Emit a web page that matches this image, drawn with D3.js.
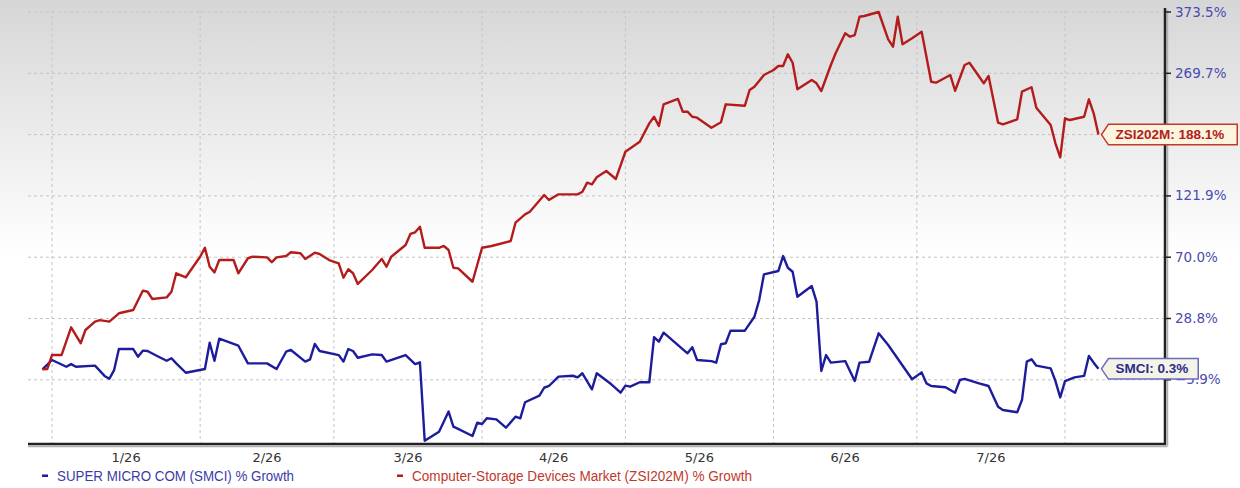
<!DOCTYPE html>
<html lang="en">
<head>
  <meta charset="UTF-8">
  <title>SMCI vs Computer-Storage Devices Market % Growth</title>
  <style>
    body { margin: 0; background: #fff; }
    #chart { width: 1240px; height: 488px; }
    .tick-label { font-family: "DejaVu Sans", Verdana, sans-serif; font-size: 13px; }
    .y-label { font-size: 13.5px; }
    .legend-text { font-family: "Liberation Sans", Arial, sans-serif; font-size: 14px; }
    .tag-text { font-family: "Liberation Sans", Arial, sans-serif; font-size: 13.5px; font-weight: bold; }
  </style>
</head>
<body>
  <div id="chart"></div>

  <script src="https://d3js.org/d3.v7.min.js"></script>
  <script>
    // SMCI % growth
    const smciDates = [
      "2025-12-30", "2026-01-01", "2026-01-04", "2026-01-05", "2026-01-06", "2026-01-10", "2026-01-12", "2026-01-13",
      "2026-01-14", "2026-01-15", "2026-01-18", "2026-01-19", "2026-01-20", "2026-01-21", "2026-01-23", "2026-01-25",
      "2026-01-26", "2026-01-27", "2026-01-29", "2026-02-02", "2026-02-03", "2026-02-04", "2026-02-05", "2026-02-09",
      "2026-02-11", "2026-02-15", "2026-02-17", "2026-02-19", "2026-02-20", "2026-02-23", "2026-02-24", "2026-02-25",
      "2026-02-26", "2026-03-02", "2026-03-03", "2026-03-04", "2026-03-05", "2026-03-06", "2026-03-09", "2026-03-11",
      "2026-03-12", "2026-03-16", "2026-03-18", "2026-03-19", "2026-03-20", "2026-03-23", "2026-03-25", "2026-03-26",
      "2026-03-27", "2026-03-30", "2026-03-31", "2026-04-01", "2026-04-02", "2026-04-04", "2026-04-06", "2026-04-08",
      "2026-04-09", "2026-04-10", "2026-04-13", "2026-04-14", "2026-04-15", "2026-04-17", "2026-04-20", "2026-04-21",
      "2026-04-22", "2026-04-24", "2026-04-25", "2026-04-28", "2026-04-30", "2026-05-01", "2026-05-02", "2026-05-04",
      "2026-05-06", "2026-05-07", "2026-05-08", "2026-05-09", "2026-05-14", "2026-05-15", "2026-05-16", "2026-05-19",
      "2026-05-20", "2026-05-21", "2026-05-22", "2026-05-23", "2026-05-26", "2026-05-28", "2026-05-29", "2026-05-30",
      "2026-06-02", "2026-06-03", "2026-06-04", "2026-06-05", "2026-06-06", "2026-06-09", "2026-06-10", "2026-06-11",
      "2026-06-12", "2026-06-13", "2026-06-16", "2026-06-18", "2026-06-19", "2026-06-21", "2026-06-23", "2026-06-25",
      "2026-06-30", "2026-07-02", "2026-07-03", "2026-07-04", "2026-07-07", "2026-07-09", "2026-07-10", "2026-07-11",
      "2026-07-14", "2026-07-16", "2026-07-18", "2026-07-19", "2026-07-22", "2026-07-23", "2026-07-24", "2026-07-25",
      "2026-07-26", "2026-07-29", "2026-07-30", "2026-07-31", "2026-08-01", "2026-08-03", "2026-08-05", "2026-08-06",
      "2026-08-07", "2026-08-08"
    ];
    const smciValues = [
      0, 5.3, 1.5, 3.0, 1.5, 2.1, -3.7, -5.3,
      -0.4, 11.5, 11.5, 7.2, 10.6, 10.4, 7.6, 4.9,
      6.3, 3.4, -1.9, 0.2, 15.1, 4.9, 17.4, 13.4,
      3.4, 3.4, 0.2, 10.0, 11.0, 4.4, 5.7, 14.4,
      10.4, 8.1, 4.4, 11.5, 10.4, 6.6, 8.5, 8.1,
      4.4, 8.1, 3.0, 4.0, -40.4, -35.3, -23.9, -32.4,
      -33.7, -37.7, -30.2, -30.9, -27.7, -28.3, -33.0, -26.8,
      -27.7, -18.6, -14.9, -10.4, -9.4, -4.1, -3.6, -4.5,
      -2.2, -11.3, -2.2, -8.3, -13.2, -9.2, -9.8, -7.3,
      -7.3, 18.2, 15.7, 20.8, 9.1, 12.5, 5.3, 4.7,
      3.8, 14.2, 14.8, 21.9, 21.9, 30.0, 41.2, 58.5,
      60.7, 71.0, 62.9, 60.2, 43.4, 50.6, 40.1, -0.9,
      8.1, 3.8, 4.7, -6.6, 3.8, 4.3, 20.4, 13.8,
      -5.6, -1.7, -7.9, -9.4, -10.1, -13.2, -6.0, -5.4,
      -7.9, -9.4, -21.1, -23.0, -24.3, -17.3, 4.4, 5.7,
      2.1, 0.6, -6.6, -15.8, -6.6, -4.5, -3.7, 7.6,
      3.8, 0.3
    ];

    // Computer-Storage Devices Market (ZSI202M) % growth
    const zsiDates = [
      "2025-12-30", "2025-12-31", "2026-01-01", "2026-01-03", "2026-01-05", "2026-01-07", "2026-01-08", "2026-01-10",
      "2026-01-11", "2026-01-13", "2026-01-15", "2026-01-18", "2026-01-20", "2026-01-21", "2026-01-22", "2026-01-25",
      "2026-01-26", "2026-01-27", "2026-01-29", "2026-02-01", "2026-02-02", "2026-02-03", "2026-02-04", "2026-02-05",
      "2026-02-08", "2026-02-09", "2026-02-11", "2026-02-12", "2026-02-15", "2026-02-16", "2026-02-17", "2026-02-19",
      "2026-02-20", "2026-02-22", "2026-02-23", "2026-02-25", "2026-02-26", "2026-02-28", "2026-03-02", "2026-03-03",
      "2026-03-04", "2026-03-05", "2026-03-06", "2026-03-09", "2026-03-11", "2026-03-12", "2026-03-13", "2026-03-16",
      "2026-03-17", "2026-03-18", "2026-03-19", "2026-03-20", "2026-03-23", "2026-03-24", "2026-03-25", "2026-03-26",
      "2026-03-27", "2026-03-30", "2026-04-01", "2026-04-03", "2026-04-07", "2026-04-08", "2026-04-10", "2026-04-11",
      "2026-04-14", "2026-04-15", "2026-04-17", "2026-04-21", "2026-04-22", "2026-04-23", "2026-04-24", "2026-04-25",
      "2026-04-27", "2026-04-29", "2026-05-01", "2026-05-04", "2026-05-06", "2026-05-07", "2026-05-08", "2026-05-09",
      "2026-05-12", "2026-05-13", "2026-05-14", "2026-05-15", "2026-05-16", "2026-05-19", "2026-05-21", "2026-05-22",
      "2026-05-26", "2026-05-27", "2026-05-28", "2026-05-30", "2026-06-01", "2026-06-02", "2026-06-03", "2026-06-04",
      "2026-06-05", "2026-06-06", "2026-06-09", "2026-06-10", "2026-06-11", "2026-06-13", "2026-06-14", "2026-06-16",
      "2026-06-17", "2026-06-18", "2026-06-19", "2026-06-20", "2026-06-23", "2026-06-25", "2026-06-26", "2026-06-27",
      "2026-06-28", "2026-06-30", "2026-07-02", "2026-07-04", "2026-07-05", "2026-07-08", "2026-07-09", "2026-07-11",
      "2026-07-12", "2026-07-15", "2026-07-16", "2026-07-18", "2026-07-19", "2026-07-22", "2026-07-23", "2026-07-25",
      "2026-07-26", "2026-07-29", "2026-07-30", "2026-07-31", "2026-08-01", "2026-08-02", "2026-08-05", "2026-08-06",
      "2026-08-07", "2026-08-08"
    ];
    const zsiValues = [
      0, 0.2, 8.1, 8.1, 23.8, 14.8, 22.3, 27.0,
      27.9, 27.0, 32.3, 34.5, 47.5, 46.8, 41.9, 43.0,
      46.8, 59.2, 56.5, 70.4, 78.0, 63.6, 59.8, 68.1,
      68.1, 59.2, 69.3, 70.4, 69.9, 66.6, 69.9, 71.0,
      74.2, 73.3, 68.8, 73.8, 72.7, 68.1, 65.9, 56.2,
      61.9, 59.2, 52.0, 61.4, 68.8, 63.6, 70.4, 80.3,
      89.7, 91.1, 95.8, 78.0, 78.0, 79.5, 76.1, 62.9,
      62.5, 53.5, 78.0, 79.5, 83.7, 99.2, 106.3, 108.5,
      122.9, 118.4, 123.6, 123.6, 126.4, 136.2, 134.4, 142.0,
      148.8, 140.2, 169.6, 180.4, 203.1, 211.9, 199.5, 228.4,
      235.5, 218.6, 218.6, 211.9, 210.6, 197.3, 204.5, 228.4,
      226.6, 247.5, 251.9, 267.4, 275.3, 282.1, 282.1, 301.9,
      287.6, 248.4, 260.8, 256.4, 246.1, 283.8, 303.6, 337.4,
      331.7, 334.5, 365.5, 366.7, 373.5, 327.3, 314.7, 365.5,
      318.8, 328.9, 340.1, 258.5, 257.2, 267.4, 246.5, 283.8,
      287.6, 256.4, 266.1, 203.9, 201.8, 208.5, 245.2, 251.1,
      223.9, 200.9, 178.7, 163.6, 209.8, 207.5, 211.9, 235.1,
      216.4, 188.1
    ];

    const yTicks = [-5.9, 28.8, 70.0, 121.9, 188.1, 269.7, 373.5];
    const monthStarts = ["2026-01-01", "2026-02-01", "2026-03-01", "2026-04-01", "2026-05-01", "2026-06-01", "2026-07-01", "2026-08-01"];
    const seriesNames = ["SUPER MICRO COM (SMCI) % Growth", "Computer-Storage Devices Market (ZSI202M) % Growth"];
    const tagNames = ["SMCI", "ZSI202M"];

    const width = 1240;
    const height = 488;
    const plotLeft = 28;
    const plotRight = 1165;
    const plotBottom = 444;

    const blue = "#1c1c9c";
    const red = "#b41c1c";

    const parse = d3.utcParse("%Y-%m-%d");

    const svg = d3.select("#chart")
      .append("svg")
      .attr("width", width)
      .attr("height", height);

    // background gradient
    const grad = svg.append("defs").append("linearGradient")
      .attr("id", "bg")
      .attr("x1", 0).attr("y1", 0).attr("x2", 0).attr("y2", 1);
    grad.append("stop").attr("offset", "0%").attr("stop-color", "#d6d6d6");
    grad.append("stop").attr("offset", "52%").attr("stop-color", "#ffffff");
    grad.append("stop").attr("offset", "100%").attr("stop-color", "#ffffff");

    svg.append("rect")
      .attr("width", width)
      .attr("height", height)
      .attr("fill", "url(#bg)");

    const months = monthStarts.map(parse);

    const x = d3.scaleUtc()
      .domain([months[0], months[months.length - 1]])
      .range([52, 1065]);

    // ticks sit evenly spaced, one step apart
    const y = d3.scaleLinear()
      .domain(yTicks)
      .range(yTicks.map((d, i) => 379.8 - i * 61.3));

    const smci = smciDates.map((d, i) => [parse(d), smciValues[i]]);
    const zsi = zsiDates.map((d, i) => [parse(d), zsiValues[i]]);

    // grid
    svg.append("g")
      .selectAll("line")
      .data(yTicks)
      .enter()
      .append("line")
      .attr("x1", plotLeft)
      .attr("x2", plotRight)
      .attr("y1", d => y(d))
      .attr("y2", d => y(d))
      .attr("stroke", "#c4c4c4")
      .attr("stroke-dasharray", "3,3");

    svg.append("g")
      .selectAll("line")
      .data(months)
      .enter()
      .append("line")
      .attr("x1", d => x(d))
      .attr("x2", d => x(d))
      .attr("y1", 10)
      .attr("y2", plotBottom)
      .attr("stroke", "#c4c4c4")
      .attr("stroke-dasharray", "3,3");

    // month labels in the middle of each month
    svg.append("g")
      .selectAll("text")
      .data(months.slice(0, -1))
      .enter()
      .append("text")
      .attr("class", "tick-label")
      .attr("x", (d, i) => (x(d) + x(months[i + 1])) / 2)
      .attr("y", 462)
      .attr("text-anchor", "middle")
      .attr("fill", "#333")
      .text(d3.utcFormat("%-m/%y"));

    // lines
    const line = d3.line()
      .x(d => x(d[0]))
      .y(d => y(d[1]));

    [[smci, blue], [zsi, red]].forEach(([data, color]) => {
      svg.append("path")
        .datum(data)
        .attr("d", line)
        .attr("fill", "none")
        .attr("stroke", color)
        .attr("stroke-width", 2.4)
        .attr("stroke-linejoin", "round");
    });

    // axes with a soft shadow
    svg.append("line")
      .attr("x1", plotLeft).attr("x2", plotRight + 2)
      .attr("y1", plotBottom + 2.5).attr("y2", plotBottom + 2.5)
      .attr("stroke", "#b0b0b0").attr("stroke-width", 1.5);
    svg.append("line")
      .attr("x1", plotRight + 2.5).attr("x2", plotRight + 2.5)
      .attr("y1", 10).attr("y2", plotBottom + 2.5)
      .attr("stroke", "#b0b0b0").attr("stroke-width", 1.5);
    svg.append("line")
      .attr("x1", plotLeft).attr("x2", plotRight + 1)
      .attr("y1", plotBottom).attr("y2", plotBottom)
      .attr("stroke", "#222").attr("stroke-width", 2.5);
    svg.append("line")
      .attr("x1", plotRight).attr("x2", plotRight)
      .attr("y1", 8).attr("y2", plotBottom + 1)
      .attr("stroke", "#222").attr("stroke-width", 2.5);

    // the last ZSI value sits on a tick, so its tag hides that tick label
    const zsiLast = zsi[zsi.length - 1][1];

    const yAxis = svg.append("g");
    yAxis.selectAll("line")
      .data(yTicks)
      .enter()
      .append("line")
      .attr("x1", plotRight)
      .attr("x2", plotRight + 6)
      .attr("y1", d => y(d))
      .attr("y2", d => y(d))
      .attr("stroke", "#222")
      .attr("stroke-width", 1.5);
    yAxis.selectAll("text")
      .data(yTicks.filter(d => d !== zsiLast))
      .enter()
      .append("text")
      .attr("class", "tick-label y-label")
      .attr("x", plotRight + 10)
      .attr("y", d => y(d) + 4.5)
      .attr("fill", "#4b4bb0")
      .text(d => d3.format(".1f")(d) + "%");

    // end-of-line tags
    const tags = [
      { name: tagNames[0], last: smci[smci.length - 1], stroke: "#6b6bc0", fill: "#f3f3e6", color: "#2c2c8c", padR: 10 },
      { name: tagNames[1], last: zsi[zsi.length - 1], stroke: "#c0392b", fill: "#fcf4dc", color: "#b02020", padR: 13 }
    ];
    tags.forEach(t => {
      const tipX = x(t.last[0]) + 3;
      const tipY = y(t.last[1]);
      const g = svg.append("g");
      const path = g.append("path");
      const label = g.append("text")
        .attr("class", "tag-text")
        .attr("x", tipX + 14)
        .attr("y", tipY + 4.5)
        .attr("fill", t.color)
        .text(`${t.name}: ${d3.format(".1f")(t.last[1])}%`);
      const w = label.node().getComputedTextLength() + 7 + t.padR;
      const h = 20.5;
      path.attr("d", `M${tipX},${tipY} L${tipX + 7},${tipY - h / 2} H${tipX + 7 + w} V${tipY + h / 2} H${tipX + 7} Z`)
        .attr("fill", t.fill)
        .attr("stroke", t.stroke)
        .attr("stroke-width", 1.5);
    });

    // legend
    const legend = [
      { text: seriesNames[0], x: 42, width: 237, color: blue, textColor: "#3b3ba6" },
      { text: seriesNames[1], x: 397, width: 340, color: red, textColor: "#c0392b" }
    ];
    legend.forEach(l => {
      svg.append("rect")
        .attr("x", l.x)
        .attr("y", 474.5)
        .attr("width", 6)
        .attr("height", 2.5)
        .attr("fill", l.color);
      svg.append("text")
        .attr("class", "legend-text")
        .attr("x", l.x + 15)
        .attr("y", 481)
        .attr("fill", l.textColor)
        .attr("textLength", l.width)
        .attr("lengthAdjust", "spacingAndGlyphs")
        .text(l.text);
    });
  </script>
</body>
</html>
